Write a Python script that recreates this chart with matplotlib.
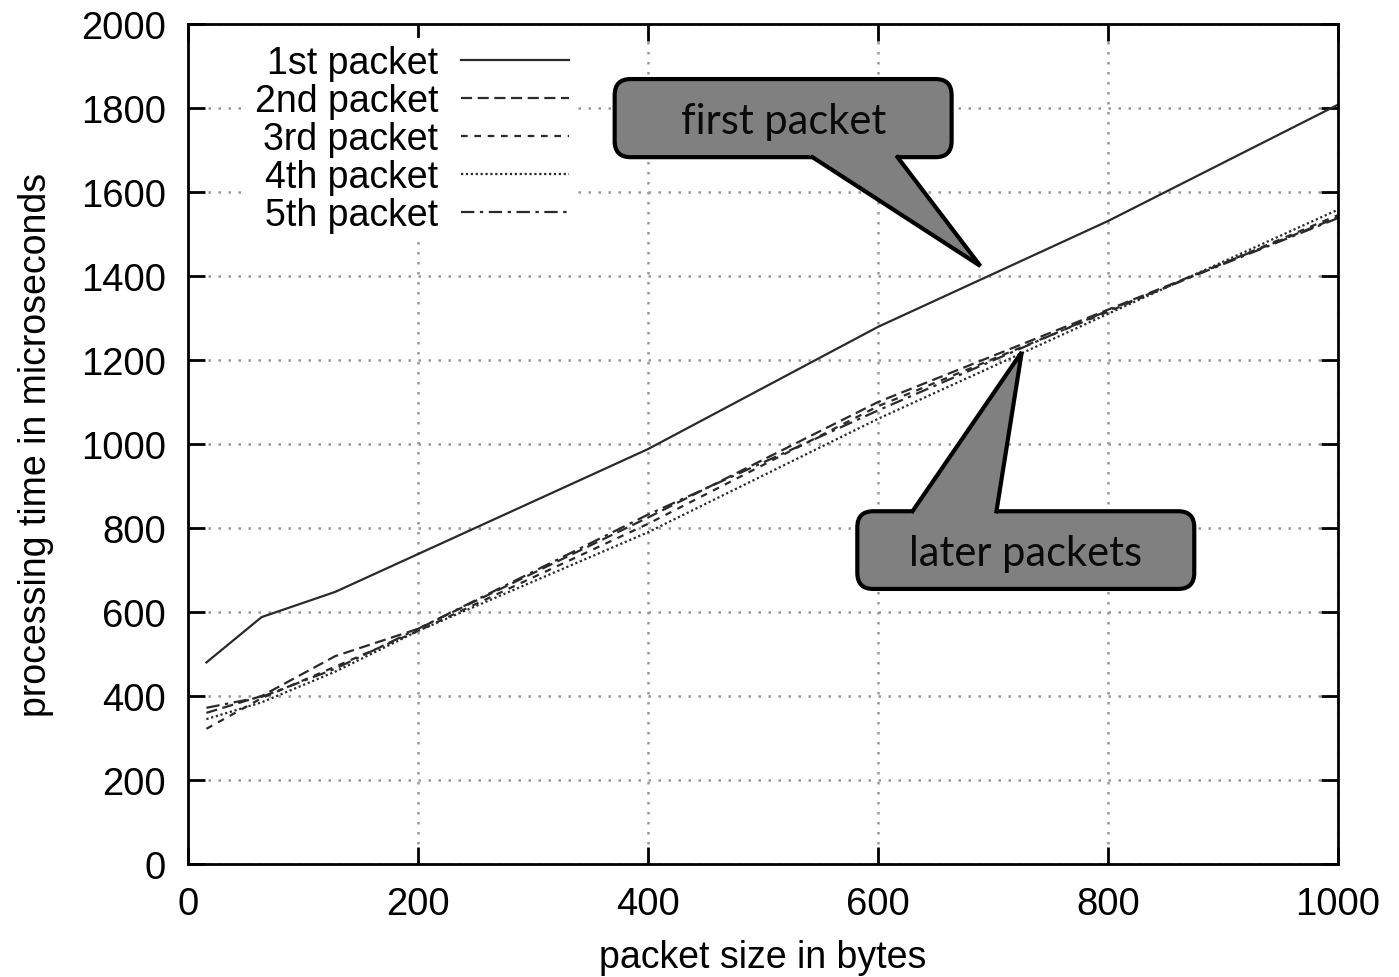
import matplotlib
matplotlib.use("Agg")
import matplotlib.pyplot as plt
from matplotlib.patches import FancyBboxPatch, Polygon
from matplotlib.transforms import IdentityTransform

# packet size in bytes
sizes = [16, 64, 128, 200, 400, 600, 800, 1000]

# processing time in microseconds
first_pkt  = [480, 588, 648, 738, 988, 1279, 1531, 1808]
second_pkt = [360, 400, 495, 560, 825, 1100, 1320, 1540]
third_pkt  = [322, 395, 470, 555, 810, 1090, 1315, 1545]
fourth_pkt = [345, 385, 458, 555, 790, 1060, 1310, 1558]
fifth_pkt  = [372, 398, 465, 560, 832, 1080, 1318, 1538]

labels = ["1st packet", "2nd packet", "3rd packet", "4th packet", "5th packet"]
xticks = [0, 200, 400, 600, 800, 1000]
yticks = [0, 200, 400, 600, 800, 1000, 1200, 1400, 1600, 1800, 2000]

plt.rcParams['font.family'] = ['Liberation Sans', 'DejaVu Sans']

fig = plt.figure(figsize=(13.99, 9.78), dpi=100)
ax = fig.add_axes([0.1344, 0.1155, 0.8220, 0.8589])

styles = [
    '-',
    (0, (5, 2.5)),
    (0, (3, 3)),
    (0, (1, 1.2)),
    (0, (6, 2.5, 1.5, 2.5)),
]
series = [first_pkt, second_pkt, third_pkt, fourth_pkt, fifth_pkt]
for vals, ls, lab in zip(series, styles, labels):
    ax.plot(sizes, vals, color='#2a2a2a', lw=1.6, ls=ls, label=lab)

ax.set_xlim(0, 1000)
ax.set_ylim(0, 2000)
ax.set_xticks(xticks)
ax.set_yticks(yticks)
ax.tick_params(direction='in', length=12, width=2, labelsize=27.5,
               top=True, right=True, pad=16)
for sp in ax.spines.values():
    sp.set_linewidth(2)
ax.grid(True, ls=(0, (1, 3)), color='#999999', lw=1.8)
ax.set_axisbelow(True)

ax.set_xlabel("packet size in bytes", fontsize=27, labelpad=12)
ax.set_ylabel("processing time in microseconds", fontsize=27, labelpad=19)

leg = ax.legend(loc='upper left', bbox_to_anchor=(0.035, 1.006), markerfirst=False,
                handlelength=2.9, fontsize=27, frameon=True, framealpha=1,
                edgecolor='white', borderpad=0.2, labelspacing=0.05,
                handletextpad=0.6)
leg.get_frame().set_linewidth(0)

fig.canvas.draw()


def callout(box, base, tip, text):
    x0, y0, x1, y1 = box
    # box built in pixel coords so the corner rounding stays circular
    (dx0, dy0), (dx1, dy1) = ax.transData.transform([(x0, y0), (x1, y1)])
    ax.add_patch(FancyBboxPatch((dx0, dy0), dx1 - dx0, dy1 - dy0,
                                boxstyle="round,pad=0,rounding_size=16",
                                fc='#808080', ec='black', lw=3, zorder=5,
                                transform=IdentityTransform(), clip_on=False))
    # tail fill: base points pushed along the tail sides into the box,
    # so the box border under the tail gets covered
    b0, b1 = base
    t = 0.05
    e0 = (b0[0] + (b0[0] - tip[0]) * t, b0[1] + (b0[1] - tip[1]) * t)
    e1 = (b1[0] + (b1[0] - tip[0]) * t, b1[1] + (b1[1] - tip[1]) * t)
    ax.add_patch(Polygon([e0, tip, e1], closed=True, fc='#808080', ec='none',
                         zorder=6, clip_on=False))
    ax.plot([b0[0], tip[0], b1[0]], [b0[1], tip[1], b1[1]],
            color='black', lw=3, zorder=7, solid_joinstyle='miter', clip_on=False)
    ax.text((x0 + x1) / 2, (y0 + y1) / 2 - 6, text, ha='center', va='center',
            fontsize=30, family=['Lato', 'DejaVu Sans'], color='#0a0a0a', zorder=8)


callout((371, 1683, 664, 1869), ((543, 1683), (617, 1683)), (689, 1424),
        "first packet")
callout((582, 655, 875, 840), ((630, 840), (703, 840)), (725, 1219),
        "later packets")

fig.savefig("out.png", dpi=100)
